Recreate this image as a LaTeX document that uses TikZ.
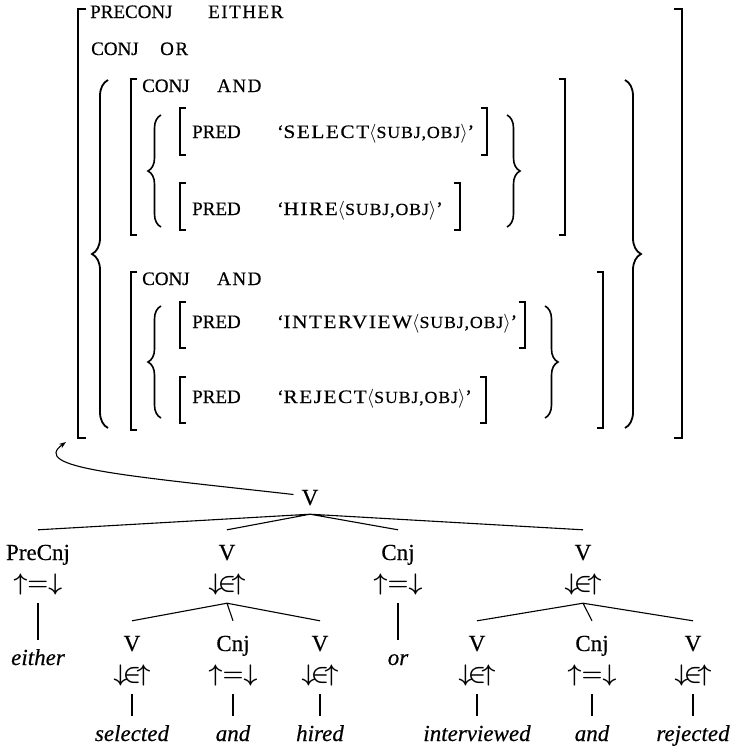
\RequirePackage{fix-cm}
\documentclass[tikz,border=0pt]{standalone}
\usepackage{fontspec}
\setmainfont{Liberation Serif}[FakeBold=0.4]
\newfontfamily\avmfont{Liberation Serif}[FakeBold=0.5]
\newfontfamily\valfont{Liberation Serif}[LetterSpace=8, FakeBold=0.5]
\newfontfamily\relfont{Liberation Serif}[LetterSpace=8, FakeStretch=1.12, FakeBold=0.5]
\newfontfamily\argfont{Liberation Serif}[LetterSpace=5, FakeStretch=1.05, FakeBold=0.5]
\newcommand{\semform}[1]{‘{\relfont #1}$\langle${\argfont\fontsize{17}{19}\selectfont SUBJ,OBJ}$\rangle$’}
\usetikzlibrary{decorations.pathreplacing,arrows.meta}
\tikzstyle{cat}=[anchor=base, inner sep=0, text height=30pt, text depth=9pt, font=\fontsize{23}{26}\selectfont]
\tikzstyle{ann}=[anchor=base, inner sep=0, text height=12pt, text depth=13pt, font=\fontsize{24}{26}\selectfont\boldmath]
\tikzstyle{wrd}=[anchor=base, inner sep=0, text height=25pt, text depth=5pt, font=\fontsize{23}{26}\selectfont\itshape]
\tikzstyle{avm}=[anchor=base west, inner sep=0, font=\avmfont\fontsize{19}{22}\selectfont]
\tikzstyle{val}=[avm, font=\valfont\fontsize{19}{22}\selectfont]
\tikzstyle{brk}=[line width=1.5pt]
\tikzstyle{obrk}=[line width=2pt]
\tikzstyle{brc}=[line width=1.6pt, decorate, decoration={brace, amplitude=13pt}]
\tikzstyle{bigbrc}=[line width=1.8pt, decorate, decoration={brace, amplitude=16pt}]
\tikzstyle{edge}=[line width=1.1pt]

\begin{document}
\begin{tikzpicture}[x=1pt, y=-1pt]
\useasboundingbox (0,0) rectangle (736,748);
\node[avm] (preconj) at (90,18) {PRECONJ};
\node[val] (eitherv) at (208,18) {EITHER};
\node[avm] (conj) at (91,55) {CONJ};
\node[val] (orv) at (160,55) {OR};
\node[avm] (conj1) at (142,92) {CONJ};
\node[val] (and1) at (217,92) {AND};
\node[avm] (pred1) at (192,138) {PRED};
\node[avm] (sel) at (277,138) {\semform{SELECT}};
\node[avm] (pred2) at (192,215) {PRED};
\node[avm] (hire) at (277,215) {\semform{HIRE}};
\node[avm] (conj2) at (142,285) {CONJ};
\node[val] (and2) at (217,285) {AND};
\node[avm] (pred3) at (192,328) {PRED};
\node[avm] (intv) at (277,328) {\semform{INTERVIEW}};
\node[avm] (pred4) at (192,403) {PRED};
\node[avm] (rej) at (277,403) {\semform{REJECT}};
\draw[obrk] (86,9) -| (78,438) -- (86,438);
\draw[obrk] (674,9) -| (682,438) -- (674,438);
\draw[brk] (137,79) -| (131,235) -- (137,235);
\draw[brk] (559,79) -| (565,235) -- (559,235);
\draw[brk] (137,272) -| (131,430) -- (137,430);
\draw[brk] (597,272) -| (603,428) -- (597,428);
\draw[brk] (186,108) -| (180,155) -- (186,155);
\draw[brk] (481,108) -| (487,155) -- (481,155);
\draw[brk] (186,183) -| (180,230) -- (186,230);
\draw[brk] (454,183) -| (460,230) -- (454,230);
\draw[brk] (186,302) -| (180,348) -- (186,348);
\draw[brk] (519,302) -| (525,348) -- (519,348);
\draw[brk] (186,377) -| (180,423) -- (186,423);
\draw[brk] (480,377) -| (486,423) -- (480,423);
\draw[bigbrc] (108,428) -- (108,80);
\draw[bigbrc] (625,80) -- (625,428);
\draw[brc] (161,227) -- (161,115);
\draw[brc] (507,115) -- (507,227);
\draw[brc] (161,418) -- (161,306);
\draw[brc] (545,306) -- (545,418);

\node[cat] (v0) at (310,505) {V};
\node[cat] (pc) at (38,560) {PreCnj};
\node[ann] (pca) at (38,590) {$\uparrow=\downarrow$};
\node[wrd] (either) at (38,665) {either};
\node[cat] (v1) at (227,560) {V};
\node[ann] (v1a) at (227,590) {$\downarrow\!\in\!\uparrow$};
\node[cat] (cn) at (398,560) {Cnj};
\node[ann] (cna) at (398,590) {$\uparrow=\downarrow$};
\node[wrd] (or) at (398,665) {or};
\node[cat] (v2) at (583,560) {V};
\node[ann] (v2a) at (583,590) {$\downarrow\!\in\!\uparrow$};
\node[cat] (v11) at (132,651) {V};
\node[ann] (v11a) at (132,681) {$\downarrow\!\in\!\uparrow$};
\node[wrd] (selected) at (132,741) {selected};
\node[cat] (cn1) at (233,651) {Cnj};
\node[ann] (cn1a) at (233,681) {$\uparrow=\downarrow$};
\node[wrd] (and3) at (233,741) {and};
\node[cat] (v12) at (320,651) {V};
\node[ann] (v12a) at (320,681) {$\downarrow\!\in\!\uparrow$};
\node[wrd] (hired) at (320,741) {hired};
\node[cat] (v21) at (477,651) {V};
\node[ann] (v21a) at (477,681) {$\downarrow\!\in\!\uparrow$};
\node[wrd] (interviewed) at (477,741) {interviewed};
\node[cat] (cn2) at (592,651) {Cnj};
\node[ann] (cn2a) at (592,681) {$\uparrow=\downarrow$};
\node[wrd] (and4) at (592,741) {and};
\node[cat] (v22) at (693,651) {V};
\node[ann] (v22a) at (693,681) {$\downarrow\!\in\!\uparrow$};
\node[wrd] (rejected) at (693,741) {rejected};
\draw[edge] (v0.south)--(pc.north) (v0.south)--(v1.north) (v0.south)--(cn.north) (v0.south)--(v2.north);
\draw[edge] (v1a.south)--(v11.north) (v1a.south)--(cn1.north) (v1a.south)--(v12.north);
\draw[edge] (v2a.south)--(v21.north) (v2a.south)--(cn2.north) (v2a.south)--(v22.north);
\draw[edge] (pca.south)--(either.north) (cna.south)--(or.north);
\draw[edge] (v11a.south)--(selected.north) (cn1a.south)--(and3.north) (v12a.south)--(hired.north);
\draw[edge] (v21a.south)--(interviewed.north) (cn2a.south)--(and4.north) (v22a.south)--(rejected.north);
\coordinate (tip) at (66,442);
\draw[edge, -{Stealth[length=7pt,width=5pt]}] ([xshift=-8pt]v0.west) .. controls (120,475) and (30,468) .. (tip);
\end{tikzpicture}
\end{document}
